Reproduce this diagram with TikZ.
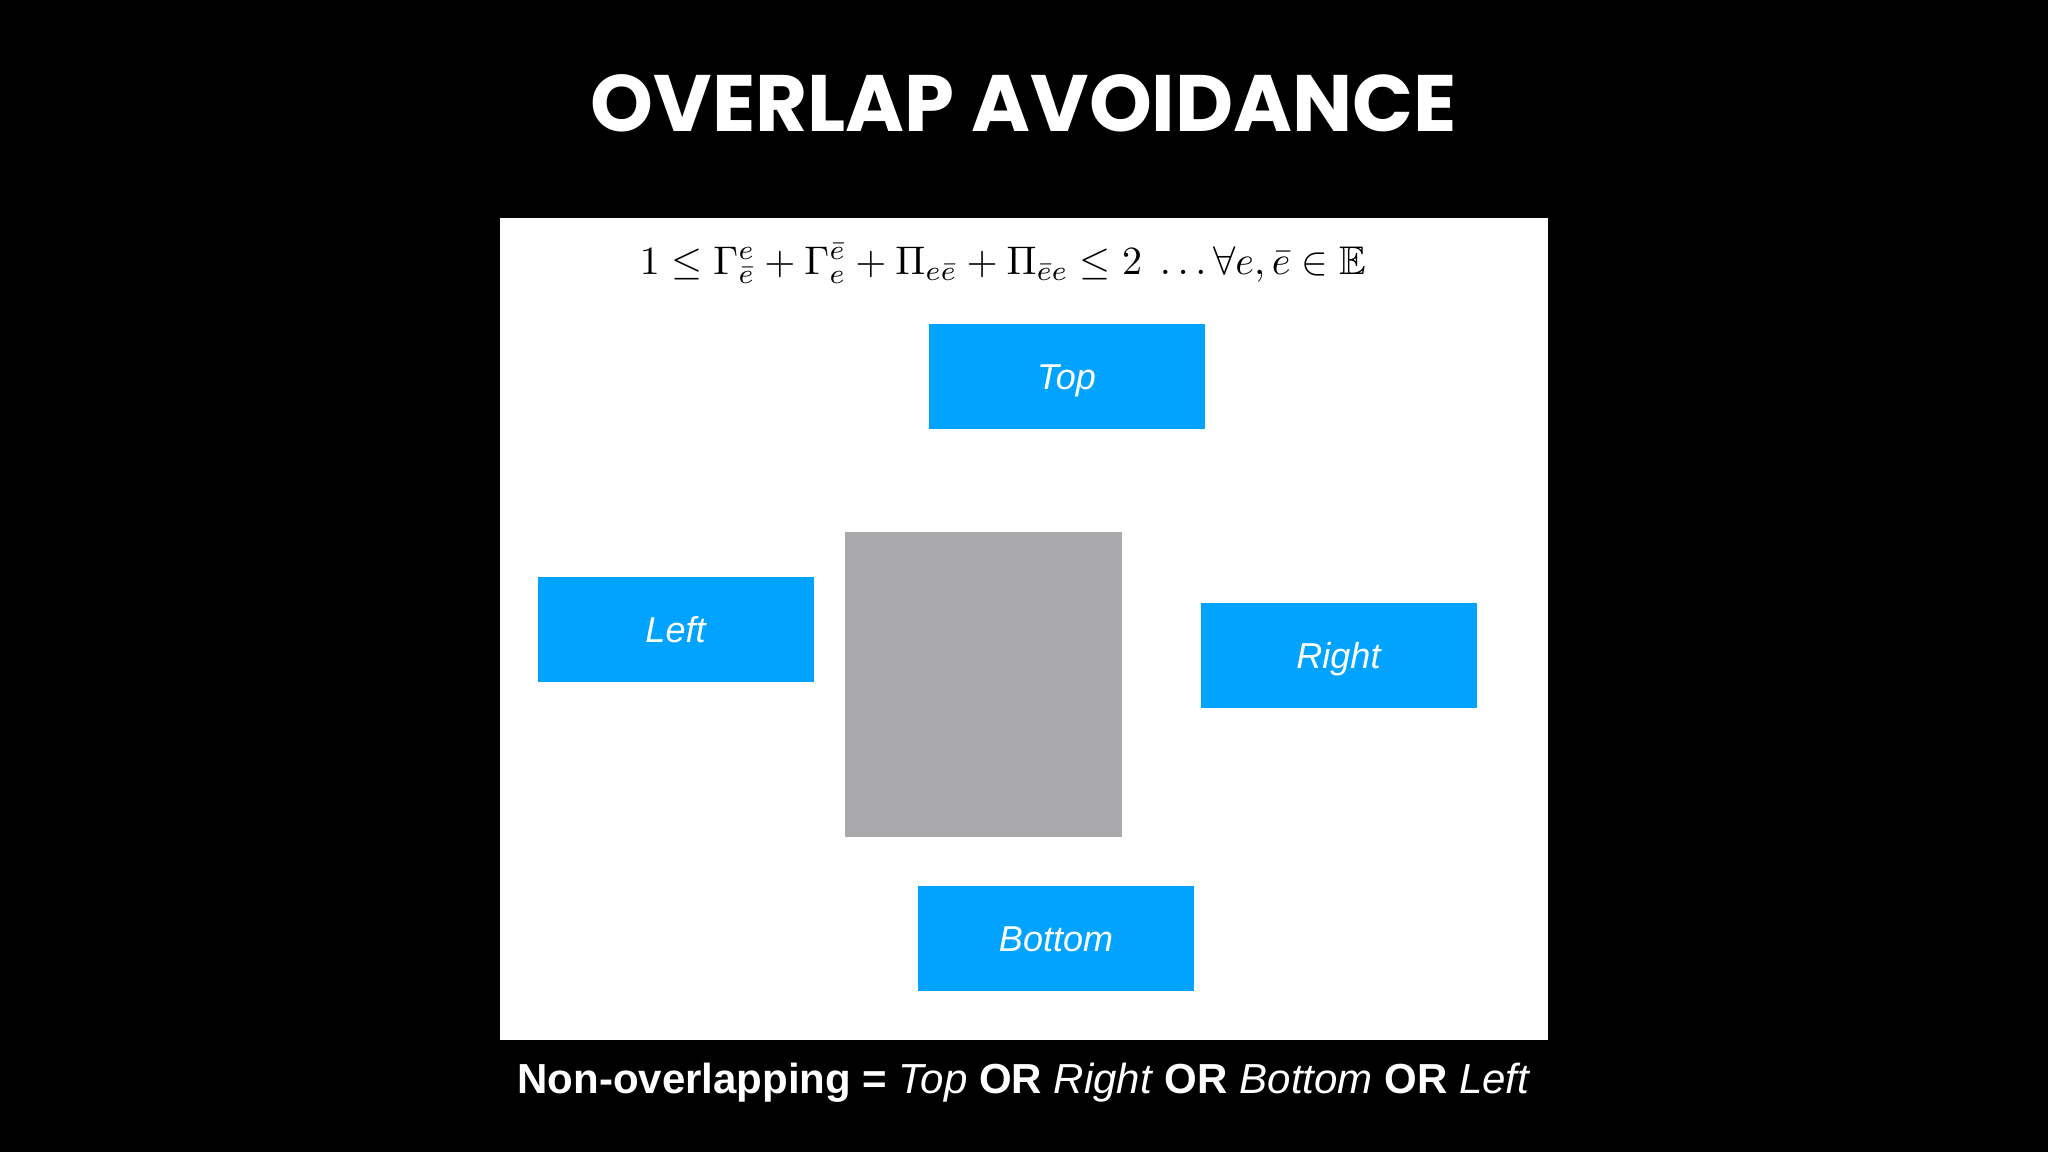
\documentclass[tikz,border=0pt]{standalone}
\usepackage{amsmath,amssymb}
\usepackage{graphicx}
\usepackage{fontspec}
\setmainfont{Liberation Sans}
\newfontfamily\titlefont{Poppins}
\newfontfamily\labelfont{Liberation Sans}
\definecolor{boxblue}{HTML}{00A3FF}
\definecolor{boxgray}{HTML}{AAA9AB}
\tikzset{
  optbox/.style={fill=boxblue, draw=none, minimum width=276pt, minimum height=105pt, inner sep=0pt,
    text height=26pt, text depth=0pt,
    text=white, font=\labelfont\itshape\fontsize{36}{40}\selectfont},
  obstacle/.style={fill=boxgray, draw=none, minimum width=277pt, minimum height=305pt, inner sep=0pt},
}
\begin{document}
\begin{tikzpicture}[x=1pt,y=-1pt]
\useasboundingbox (0,0) rectangle (2048,1152);
\fill[black] (0,0) rectangle (2048,1152);
\fill[white] (500,218) rectangle (1548,1040);
\node[anchor=base, text=white, inner sep=0pt, font=\titlefont\bfseries\fontsize{80}{90}\selectfont] (title) at (1024,131) {OVERLAP AVOIDANCE};
\node[anchor=base, text=black, inner sep=0pt] (formula) at (1003,274)
  {\resizebox{726pt}{!}{$1 \leq \Gamma^{e}_{\bar e} + \Gamma^{\bar e}_{e} + \Pi_{e\bar e} + \Pi_{\bar e e} \leq 2 \;\ldots \forall e,\bar e \in \mathbb{E}$}};
\node[optbox] (top) at (1066.5,376) {Top};
\node[optbox] (left) at (675.5,629) {Left};
\node[obstacle] (obs) at (983.5,684.5) {};
\node[optbox] (right) at (1338.5,655) {Right};
\node[optbox] (bottom) at (1056,938) {Bottom};
\node[anchor=base, text=white, inner sep=0pt, font=\fontsize{42}{48}\selectfont] (caption) at (1024,1093)
  {\textbf{Non-overlapping =} \textit{Top} \textbf{OR} \textit{Right} \textbf{OR} \textit{Bottom} \textbf{OR} \textit{Left}};
\end{tikzpicture}
\end{document}
